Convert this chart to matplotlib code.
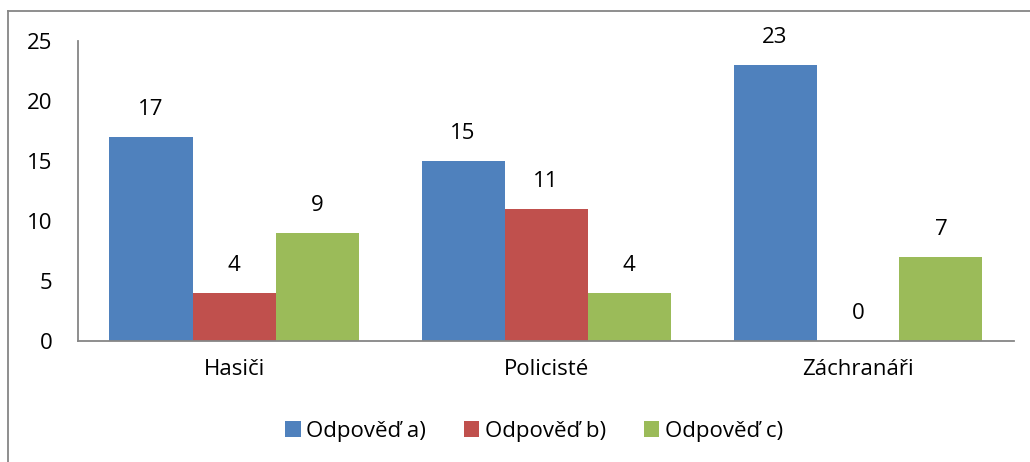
import matplotlib
matplotlib.use("Agg")
import matplotlib.pyplot as plt
from matplotlib.lines import Line2D
from matplotlib.patches import Patch
import numpy as np

categories = ["Hasiči", "Policisté", "Záchranáři"]
series_names = ["Odpověď a)", "Odpověď b)", "Odpověď c)"]
odp_a = [17, 15, 23]
odp_b = [4, 11, 0]
odp_c = [9, 4, 7]
yticks = [0, 5, 10, 15, 20, 25]

colors = ["#4F81BD", "#C0504D", "#9BBB59"]
plt.rcParams['font.family'] = ['Open Sans', 'DejaVu Sans']
FS = 16

W, H = 1030, 462
fig = plt.figure(figsize=(W / 100, H / 100), dpi=100)
ax = fig.add_axes([78 / W, 1 - 341 / H, (1014 - 78) / W, (341 - 41) / H])

x = np.arange(len(categories))
bw = 83 / 312
data = [odp_a, odp_b, odp_c]
for i, (vals, c) in enumerate(zip(data, colors)):
    pos = x + (i - 1) * bw
    ax.bar(pos, vals, width=bw, color=c, label=series_names[i])
    for p, v in zip(pos, vals):
        ax.annotate(str(v), (p, v), xytext=(0, 20), textcoords="offset points",
                    ha="center", va="center", fontsize=FS, color="black")

ax.set_xlim(-0.5, 2.5)
ax.set_ylim(0, 25)
ax.set_yticks(yticks)
ax.set_xticks(x)
ax.set_xticklabels(categories, fontsize=FS)
ax.tick_params(axis="y", labelsize=FS, length=0, pad=18.5)
ax.tick_params(axis="x", length=0, pad=13)
for s in ["top", "right"]:
    ax.spines[s].set_visible(False)
for s in ["left", "bottom"]:
    ax.spines[s].set_color("#868686")
    ax.spines[s].set_linewidth(1.3)

handles = [Patch(facecolor=c, edgecolor="none") for c in colors]
fig.legend(handles, series_names, loc="center", bbox_to_anchor=(534 / W, 1 - 431 / H),
           ncol=3, frameon=False, fontsize=FS, handlelength=0.7, handleheight=0.7,
           handletextpad=0.25, columnspacing=1.7)

# outer chart border (only left and top visible in crop)
fig.add_artist(Line2D([8 / W, 8 / W], [0, 1 - 11 / H], transform=fig.transFigure,
                      color="#868686", linewidth=1.3))
fig.add_artist(Line2D([8 / W, 1], [1 - 11 / H, 1 - 11 / H], transform=fig.transFigure,
                      color="#868686", linewidth=1.3))

fig.savefig("out.png", dpi=100)
